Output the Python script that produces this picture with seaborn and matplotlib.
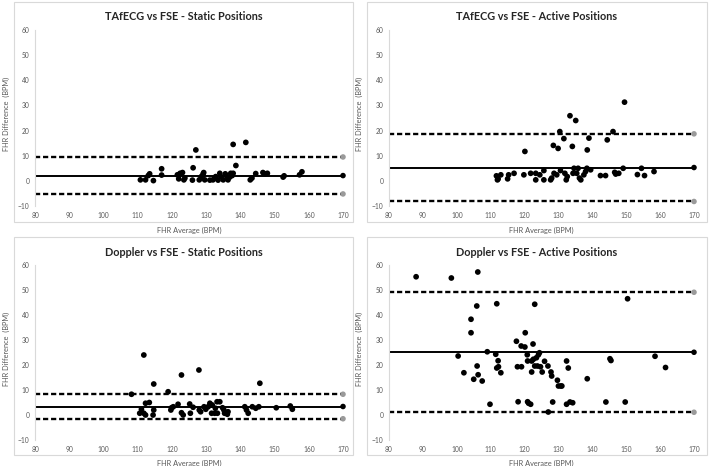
import matplotlib
matplotlib.use("Agg")
import matplotlib.pyplot as plt
import seaborn as sns
import pandas as pd
from matplotlib.patches import Rectangle

sns.set_theme(style="white")
plt.rcParams['font.family'] = ['Lato', 'DejaVu Sans']

titles = ["TAfECG vs FSE - Static Positions", "TAfECG vs FSE - Active Positions",
          "Doppler vs FSE - Static Positions", "Doppler vs FSE - Active Positions"]
x_label = "FHR Average (BPM)"
y_label = "FHR Difference  (BPM)"
x_ticks = [80, 90, 100, 110, 120, 130, 140, 150, 160, 170]
y_ticks = [-10, 0, 10, 20, 30, 40, 50, 60]

# Panel 1: TAfECG vs FSE - Static
p1_x = [110.8, 112.3, 113.1, 113.5, 114.6, 117.0, 117.0, 121.6, 122.0, 122.4, 123.1, 123.5, 123.8,
        126.0, 126.2, 127.0, 128.0, 128.6, 129.1, 129.3, 129.6, 131.1, 132.0, 132.5, 132.8, 133.5,
        134.0, 134.3, 135.0, 135.6, 136.1, 136.4, 136.9, 137.2, 137.6, 137.9, 137.9, 138.7, 141.6,
        142.9, 143.4, 144.5, 146.6, 147.1, 147.9, 152.5, 152.8, 157.3, 158.0]
p1_y = [0.4, 0.4, 2.1, 2.8, 0.1, 2.3, 4.8, 2.4, 0.8, 3.0, 3.3, 0.4, 1.1,
        0.3, 5.2, 12.3, 0.4, 1.7, 2.7, 3.3, 0.4, 0.3, 0.4, 1.1, 1.7, 0.3,
        3.0, 1.7, 0.4, 2.8, 1.7, 0.4, 1.5, 3.0, 2.1, 3.0, 14.5, 6.1, 15.3,
        0.4, 1.1, 2.9, 3.3, 2.8, 3.0, 1.5, 2.0, 2.4, 3.6]
p1_lines = [2.1, 9.5, -5.2]  # mean, upper, lower

# Panel 2: TAfECG vs FSE - Active
p2_x = [111.7, 112.0, 112.2, 113.0, 115.0, 115.3, 116.9, 119.8, 120.1, 121.8, 123.3, 123.3, 124.5,
        125.7, 125.7, 127.7, 128.0, 128.5, 128.7, 129.5, 129.9, 130.4, 130.6, 131.6, 131.9, 132.3,
        132.6, 133.4, 134.1, 134.3, 134.6, 135.1, 135.4, 135.8, 136.2, 136.6, 137.5, 138.0, 138.4,
        138.5, 139.0, 139.5, 142.4, 143.9, 144.4, 146.1, 146.6, 146.9, 147.8, 149.1, 149.5, 153.3,
        154.5, 155.4, 158.2]
p2_y = [2.0, 0.4, 0.8, 2.4, 0.8, 2.4, 3.0, 2.4, 11.7, 3.0, 0.4, 3.0, 2.4,
        4.1, 0.4, 0.4, 1.1, 14.1, 3.0, 2.4, 12.9, 19.6, 4.1, 16.8, 3.0, 0.4,
        1.7, 25.9, 13.7, 3.0, 5.0, 24.0, 3.0, 5.0, 1.1, 0.4, 2.4, 3.7, 5.0,
        12.3, 17.0, 4.4, 2.1, 2.1, 16.3, 19.6, 3.4, 2.7, 3.0, 5.0, 31.3, 2.5,
        5.0, 2.1, 3.7]
p2_lines = [5.3, 18.7, -8.2]

# Panel 3: Doppler vs FSE - Static
p3_x = [108.2, 111.8, 110.6, 111.1, 111.8, 112.3, 112.3, 113.4, 114.5, 114.7, 114.7, 118.9, 119.7,
        119.9, 120.4, 121.8, 122.8, 122.8, 123.3, 125.2, 125.4, 126.2, 127.9, 128.0, 128.4, 129.4,
        129.9, 130.6, 131.1, 131.6, 131.8, 132.5, 132.7, 133.2, 133.3, 134.0, 134.8, 135.2, 135.4,
        136.2, 136.4, 141.3, 141.8, 142.3, 143.5, 144.5, 145.4, 145.7, 150.5, 154.6, 155.2]
p3_y = [8.3, 24.0, 0.7, 2.3, 0.7, 0.0, 4.7, 5.0, 0.0, 2.0, 12.4, 9.3, 2.0,
        2.9, 3.3, 4.3, 16.0, 0.9, 0.0, 4.4, 0.7, 3.1, 18.0, 2.0, 1.3, 3.3,
        2.3, 3.3, 4.7, 0.7, 4.0, 0.7, 2.7, 5.3, 0.7, 5.3, 2.9, 2.0, 0.7,
        0.3, 1.3, 3.3, 2.0, 0.7, 3.3, 2.7, 3.3, 12.7, 2.9, 3.6, 2.3]
p3_lines = [3.4, 8.3, -1.5]

# Panel 4: Doppler vs FSE - Active
p4_x = [88.0, 98.4, 106.2, 100.4, 102.1, 104.2, 104.2, 105.0, 105.9, 106.0, 106.3, 107.5, 109.0,
        109.8, 111.5, 111.8, 111.8, 112.2, 112.3, 113.0, 117.6, 117.9, 118.1, 119.0, 119.1, 120.1,
        120.2, 120.8, 120.9, 120.9, 121.2, 121.8, 122.1, 122.1, 122.5, 122.6, 123.0, 123.0, 123.5,
        123.8, 124.1, 124.4, 124.7, 125.2, 125.9, 126.9, 127.0, 127.8, 128.0, 128.3, 129.7, 130.0,
        130.7, 131.0, 132.4, 132.4, 132.9, 133.4, 134.2, 138.5, 144.0, 145.2, 145.5, 149.7, 150.4,
        158.5, 161.6]
p4_y = [55.3, 54.8, 57.2, 23.6, 16.9, 38.3, 32.9, 14.3, 43.6, 19.6, 16.1, 13.6, 25.3,
        4.3, 24.3, 44.5, 18.8, 21.7, 19.3, 16.9, 29.5, 19.3, 5.3, 27.6, 19.3, 27.2,
        32.9, 24.1, 21.6, 5.3, 4.7, 4.3, 21.6, 17.2, 28.4, 22.3, 44.3, 19.6, 22.9,
        19.6, 24.1, 24.9, 19.3, 17.2, 21.5, 19.6, 1.2, 17.2, 15.6, 5.2, 13.9, 11.6,
        11.6, 11.6, 21.6, 4.3, 18.8, 5.2, 4.9, 14.5, 5.2, 22.5, 21.8, 5.2, 46.5,
        23.5, 19.0]
p4_lines = [25.1, 49.1, 1.1]

panels = [(p1_x, p1_y, p1_lines), (p2_x, p2_y, p2_lines),
          (p3_x, p3_y, p3_lines), (p4_x, p4_y, p4_lines)]

W, H = 709, 466
fig = plt.figure(figsize=(W / 100, H / 100), dpi=100)
fig.patch.set_facecolor("white")

# axes rects in pixel coords: (left, top, right, bottom)
ax_px = [(35, 30, 343, 206), (389, 30, 694, 206),
         (35, 265, 343, 440), (389, 265, 694, 440)]
box_px = [(14, 2, 353, 222), (367, 2, 707, 222),
          (14, 237, 353, 455), (367, 237, 707, 455)]

tick_color = "#595959"
for i, (px, (xs, ys, lines)) in enumerate(zip(ax_px, panels)):
    bl, bt, br, bb = box_px[i]
    fig.patches.append(Rectangle((bl / W, 1 - bb / H), (br - bl) / W, (bb - bt) / H,
                                 transform=fig.transFigure, fill=False,
                                 edgecolor="#d9d9d9", linewidth=0.8, zorder=0))
    l, t, r, b = px
    ax = fig.add_axes([l / W, 1 - b / H, (r - l) / W, (b - t) / H])
    ax.set_facecolor("none")
    df = pd.DataFrame({"x": xs, "y": ys})
    mean, up, lo = lines
    for val, style, mcol in [(up, "--", "#9a9a9a"), (lo, "--", "#9a9a9a"), (mean, "-", "black")]:
        ldf = pd.DataFrame({"x": [80, 170], "y": [val, val]})
        sns.lineplot(data=ldf, x="x", y="y", ax=ax, color="black",
                     linestyle=style, linewidth=1.7 if style == "--" else 1.4,
                     dashes=False, zorder=2)
        if style == "--":
            ax.lines[-1].set_dashes([2.2, 1.2])
        sns.scatterplot(data=ldf.iloc[[1]], x="x", y="y", ax=ax, color=mcol,
                        s=16, edgecolor="none", zorder=3, clip_on=False)
    sns.scatterplot(data=df, x="x", y="y", ax=ax, color="black", s=17,
                    edgecolor="none", zorder=4)
    ax.set_xlim(80, 170)
    ax.set_ylim(-10, 60)
    ax.set_xticks(x_ticks)
    ax.set_yticks(y_ticks)
    ax.tick_params(axis="both", length=0, labelsize=4.8, colors=tick_color, pad=4)
    for s in ["top", "right", "bottom"]:
        ax.spines[s].set_visible(False)
    ax.spines["left"].set_color("#d9d9d9")
    ax.spines["left"].set_linewidth(0.8)
    ax.set_xlabel("")
    ax.set_ylabel("")
    # title
    fig.text((bl + br) / 2 / W, 1 - 15 / H - bt / H, titles[i], ha="center", va="center",
             fontsize=7.8, fontweight="bold", color="#262626")
    # x label
    fig.text((l + r) / 2 / W, 1 - (bb + 8) / H, x_label, ha="center", va="center",
             fontsize=5.3, color=tick_color,
             bbox=dict(facecolor="white", edgecolor="none", pad=1.0))
    # y label
    fig.text((bl - 8) / W, 1 - ((t + b) / 2 - 4) / H, y_label, ha="center", va="center",
             rotation=90, fontsize=5.3, color=tick_color,
             bbox=dict(facecolor="white", edgecolor="none", pad=1.0))

fig.savefig("out.png", dpi=100, facecolor="white")
